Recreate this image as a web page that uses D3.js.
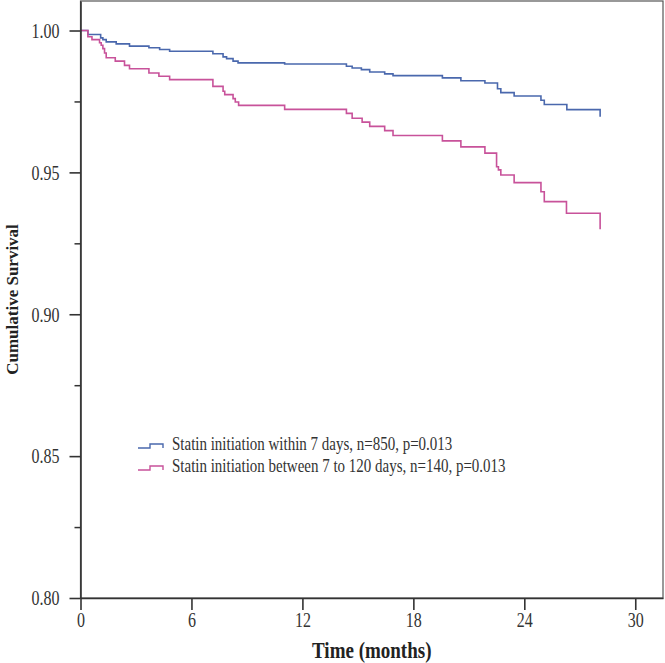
<!DOCTYPE html>
<html>
<head>
<meta charset="utf-8">
<script src="https://cdn.jsdelivr.net/npm/d3@7"></script>
<style>
  body { margin: 0; background: #fff; }
  svg { display: block; font-family: "Liberation Serif", "Times New Roman", serif; }
</style>
</head>
<body>
<div id="chart"></div>
<script>
// Kaplan-Meier steps: [time in months, cumulative survival]
const within7Times = [0, 0.40, 1.09, 1.21, 1.39, 1.93, 2.65, 3.70, 4.28, 4.82, 7.16, 7.71, 7.90, 8.25, 8.52, 11.04, 14.38, 14.69, 15.19, 15.64, 16.45, 16.90, 19.57, 20.57, 21.87, 22.55, 22.73, 23.45, 24.90, 25.08, 26.30, 28.10, 28.10];
const within7Surv = [1.0, 0.9986, 0.9974, 0.9968, 0.9960, 0.9953, 0.9945, 0.9939, 0.9933, 0.9927, 0.9918, 0.9907, 0.9901, 0.9892, 0.9886, 0.9882, 0.9874, 0.9868, 0.9862, 0.9854, 0.9847, 0.9841, 0.9833, 0.9823, 0.9815, 0.9795, 0.9781, 0.9769, 0.9754, 0.9739, 0.9721, 0.9721, 0.9696];

const laterTimes = [0, 0.40, 0.62, 1.03, 1.12, 1.21, 1.30, 1.39, 1.88, 2.38, 2.65, 3.70, 4.24, 4.82, 7.16, 7.71, 7.80, 8.25, 8.37, 8.55, 11.04, 14.38, 14.69, 15.23, 15.64, 16.45, 16.90, 19.57, 20.57, 21.87, 22.50, 22.60, 22.73, 23.45, 24.90, 25.08, 26.28, 28.10, 28.10];
const laterSurv = [1.0, 0.9978, 0.9968, 0.9957, 0.9948, 0.9936, 0.9921, 0.9904, 0.9892, 0.9877, 0.9865, 0.9850, 0.9839, 0.9827, 0.9803, 0.9786, 0.9774, 0.9760, 0.9748, 0.9736, 0.9722, 0.9708, 0.9691, 0.9677, 0.9662, 0.9647, 0.9630, 0.9611, 0.9590, 0.9568, 0.9520, 0.9509, 0.9491, 0.9464, 0.9432, 0.9397, 0.9356, 0.9356, 0.9300];

const seriesNames = [
  "Statin initiation within 7 days, n=850, p=0.013",
  "Statin initiation between 7 to 120 days, n=140, p=0.013"
];
const seriesColors = ["#4a68ad", "#c8529a"];

const xTicks = [0, 6, 12, 18, 24, 30];
const yTicks = [0.80, 0.85, 0.90, 0.95, 1.00];
const yMinorTicks = [0.825, 0.875, 0.925, 0.975];

const width = 665, height = 663;
const frame = { left: 80.5, right: 663, top: 1, bottom: 598 };
const stretch = 1.25; // the original's lettering is drawn taller than it is wide

const x = d3.scaleLinear().domain([0, 31.5]).range([frame.left, frame.right]);
const y = d3.scaleLinear().domain([0.80, 1.0104]).range([frame.bottom, frame.top]);

const svg = d3.select("#chart").append("svg")
  .attr("width", width)
  .attr("height", height);

// plot frame
svg.append("rect")
  .attr("x", frame.left)
  .attr("y", frame.top)
  .attr("width", frame.right - frame.left)
  .attr("height", frame.bottom - frame.top)
  .attr("fill", "none")
  .attr("stroke", "#555")
  .attr("stroke-width", 1.2);

const series = [
  within7Times.map((t, i) => ({ t, s: within7Surv[i] })),
  laterTimes.map((t, i) => ({ t, s: laterSurv[i] }))
];

const line = d3.line()
  .x((d) => x(d.t))
  .y((d) => y(d.s))
  .curve(d3.curveStepAfter);

svg.selectAll(".km")
  .data(series)
  .join("path")
  .attr("class", "km")
  .attr("fill", "none")
  .attr("stroke", (d, i) => seriesColors[i])
  .attr("stroke-width", 1.6)
  .attr("d", line);

// axes
const xAxis = svg.append("g")
  .attr("transform", `translate(0,${frame.bottom})`)
  .call(d3.axisBottom(x).tickValues(xTicks).tickSize(12).tickPadding(4).tickSizeOuter(0));

const yAxis = svg.append("g")
  .attr("transform", `translate(${frame.left},0)`)
  .call(d3.axisLeft(y).tickValues(yTicks).tickSize(11).tickPadding(10).tickSizeOuter(0).tickFormat(d3.format(".2f")));

svg.append("g")
  .attr("transform", `translate(${frame.left},0)`)
  .call(d3.axisLeft(y).tickValues(yMinorTicks).tickSize(6).tickSizeOuter(0).tickFormat(""))
  .call((g) => g.select(".domain").remove())
  .selectAll("line").attr("stroke", "#333").attr("stroke-width", 1.5);

[xAxis, yAxis].forEach((g) => {
  g.select(".domain").attr("stroke", "#333").attr("stroke-width", 1.6);
  g.selectAll(".tick line").attr("stroke", "#333").attr("stroke-width", 1.6);
  g.selectAll(".tick text")
    .attr("fill", "#333")
    .style("font-family", "Liberation Serif")
    .style("font-size", "16px");
});

// make tick labels taller, keeping their anchor point
xAxis.selectAll(".tick text")
  .attr("y", 15)
  .attr("dy", null)
  .attr("transform", `translate(0,${15 + 16 * 0.71 * stretch}) scale(1,${stretch}) translate(0,-15)`);
yAxis.selectAll(".tick text")
  .attr("dy", null)
  .attr("transform", `translate(0,${16 * 0.34 * stretch}) scale(1,${stretch})`);

// axis titles, centred on the frame
svg.append("text")
  .attr("transform", `translate(${(frame.left + frame.right) / 2},658) scale(1,${stretch})`)
  .attr("text-anchor", "middle")
  .attr("font-weight", "bold")
  .attr("font-size", 19)
  .attr("fill", "#222")
  .text("Time (months)");

svg.append("text")
  .attr("transform", `translate(18,${(frame.top + frame.bottom) / 2}) rotate(-90)`)
  .attr("text-anchor", "middle")
  .attr("font-weight", "bold")
  .attr("font-size", 17)
  .attr("fill", "#222")
  .text("Cumulative Survival");

// legend
const legend = svg.append("g").attr("transform", "translate(138,443)");
const glyph = d3.line()([[0, 5], [12, 5], [12, 1], [25, 1], [25, 5]]);

const item = legend.selectAll("g")
  .data(seriesNames)
  .join("g")
  .attr("transform", (d, i) => `translate(0,${i * 22})`);

item.append("path")
  .attr("d", glyph)
  .attr("fill", "none")
  .attr("stroke", (d, i) => seriesColors[i])
  .attr("stroke-width", 1.4);

item.append("text")
  .attr("transform", `translate(34,7) scale(1,1.2)`)
  .attr("font-size", 15)
  .attr("fill", "#333")
  .text((d) => d);
</script>
</body>
</html>
